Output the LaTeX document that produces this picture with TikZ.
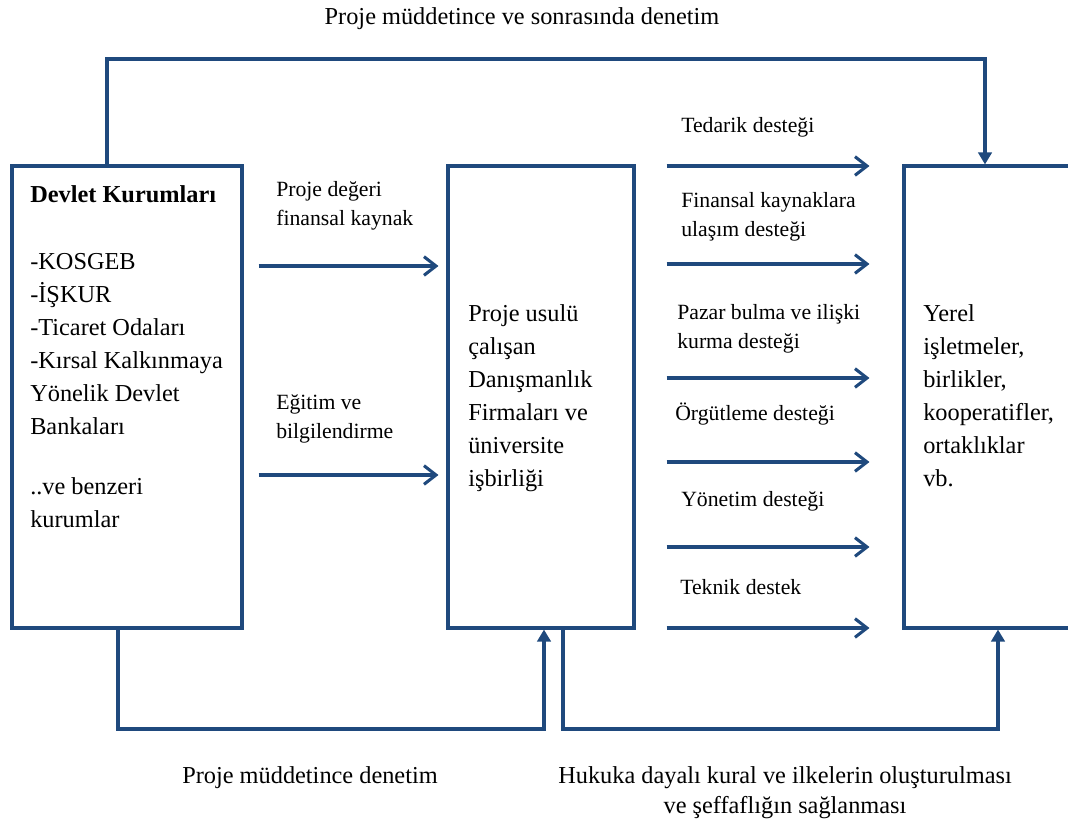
\documentclass[tikz,border=0pt]{standalone}
\usepackage{fontspec}
\setmainfont{Liberation Serif}
\usetikzlibrary{arrows.meta}
\definecolor{cizgi}{RGB}{31,73,125}

\begin{document}
\begin{tikzpicture}[x=0.75pt,y=0.75pt,yscale=-1,xscale=1,
  kutu/.style={draw=cizgi, line width=2.3pt, minimum height=346.5pt, inner sep=0pt},
  ok/.style={draw=cizgi, line width=2.3pt, -{Straight Barb[length=9pt,width=14pt]}},
  hat/.style={draw=cizgi, line width=2.3pt, -{Triangle[length=9pt,width=10pt]}},
  yazi/.style={anchor=north west, inner sep=0pt, align=left, font=\fontsize{18.25}{24.75}\selectfont},
  etiket/.style={anchor=north west, inner sep=0pt, align=left, font=\fontsize{16.3}{21.75}\selectfont}]
\useasboundingbox (0,0) rectangle (1068,830);
\clip (0,0) rectangle (1068,830);

%Shape: Boxes
\node[kutu, minimum width=172.5pt] (dk) at (127,397) {};
\node[kutu, minimum width=139.5pt] (pf) at (541,397) {};
\node[kutu, minimum width=132pt] (yi) at (992,397) {};

% Text Node
\node[yazi] (dkyazi) at (30,185) {\textbf{Devlet Kurumları}\\[25.5pt]-KOSGEB\\-İŞKUR\\-Ticaret Odaları\\-Kırsal Kalkınmaya\\Yönelik Devlet\\Bankaları\\[20.25pt]..ve benzeri\\kurumlar};
% Text Node
\node[yazi] (pfyazi) at (468,304) {Proje usulü\\çalışan\\Danışmanlık\\Firmaları ve\\üniversite\\işbirliği};
% Text Node
\node[yazi] (yiyazi) at (923,304) {Yerel\\işletmeler,\\birlikler,\\kooperatifler,\\ortaklıklar\\vb.};

% Text Node
\node[etiket] (e1) at (276,181) {Proje değeri\\finansal kaynak};
\node[etiket] (e2) at (276,394) {Eğitim ve\\bilgilendirme};
\node[etiket] (d1) at (681,117) {Tedarik desteği};
\node[etiket] (d2) at (681,192) {Finansal kaynaklara\\ulaşım desteği};
\node[etiket] (d3) at (677,304) {Pazar bulma ve ilişki\\kurma desteği};
\node[etiket] (d4) at (675,403) {Örgütleme desteği};
\node[etiket] (d5) at (681,491) {Yönetim desteği};
\node[etiket] (d6) at (680,579) {Teknik destek};

% Text Node
\node[anchor=base, inner sep=0pt, font=\fontsize{18.25}{24.75}\selectfont] (ust) at (522,25) {Proje müddetince ve sonrasında denetim};
\node[anchor=base, inner sep=0pt, font=\fontsize{18.25}{24.75}\selectfont] (altsol) at (310,783) {Proje müddetince denetim};
\node[anchor=north, inner sep=0pt, align=center, font=\fontsize{18.25}{22.5}\selectfont] (altsag) at (785,766) {Hukuka dayalı kural ve ilkelerin oluşturulması\\ve şeffaflığın sağlanması};

%Straight Lines
\coordinate (u1) at (107,59);
\coordinate (u2) at (985,59);
\coordinate (a1) at (118,729);
\coordinate (a2) at (544,729);
\coordinate (a3) at (563,729);
\coordinate (a4) at (998,729);
\draw[hat] (dk.north -| u1) |- (u2) -- (yi.north -| u2);
\draw[hat] (dk.south -| a1) |- (a2) -- (pf.south -| a2);
\draw[hat] (pf.south -| a3) |- (a4) -- (yi.south -| a4);

\draw[ok, shorten <=11.25pt, shorten >=6pt] (dk.east |- 0,266) -- (pf.west |- 0,266);
\draw[ok, shorten <=11.25pt, shorten >=6pt] (dk.east |- 0,475) -- (pf.west |- 0,475);
\foreach \y in {166,264,378,462,547,628}
  \draw[ok, shorten <=23.25pt, shorten >=24.75pt] (pf.east |- 0,\y) -- (yi.west |- 0,\y);

\end{tikzpicture}
\end{document}
